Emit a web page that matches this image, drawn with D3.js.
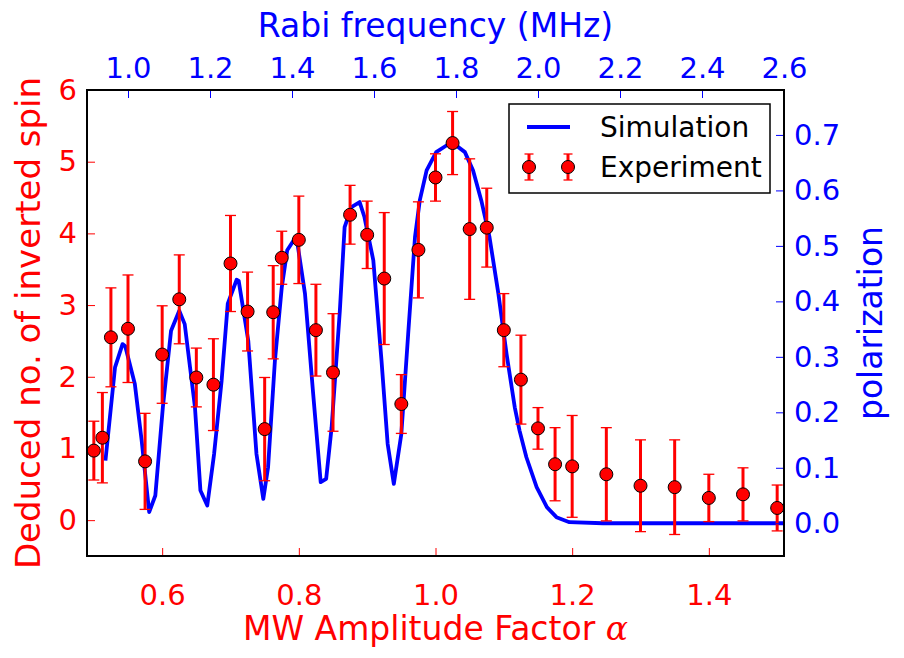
<!DOCTYPE html>
<html lang="en">
<head>
<meta charset="utf-8">
<title>Inverted spin vs MW amplitude</title>
<script src="https://d3js.org/d3.v7.min.js"></script>
<style>
  body { margin: 0; background: #fff; }
  text { font-family: "DejaVu Sans", sans-serif; }
</style>
</head>
<body>
<div id="chart"></div>
<script>

// experiment: MW amplitude factor, deduced no. of inverted spin, error
var alpha = [0.50, 0.5125, 0.525, 0.55, 0.575, 0.60, 0.625, 0.65, 0.675, 0.70, 0.725, 0.75, 0.7625,
  0.775, 0.80, 0.825, 0.85, 0.875, 0.90, 0.925, 0.95, 0.975, 1.00, 1.025, 1.05, 1.075, 1.10, 1.125,
  1.15, 1.175, 1.20, 1.25, 1.30, 1.35, 1.40, 1.45, 1.50]
var spins = [0.97, 1.15, 2.55, 2.67, 0.82, 2.31, 3.08, 1.99, 1.89, 3.58, 2.91, 1.27, 2.90,
  3.66, 3.91, 2.65, 2.06, 4.26, 3.98, 3.37, 1.62, 3.77, 4.78, 5.26, 4.06, 4.08, 2.65, 1.96,
  1.28, 0.78, 0.75, 0.64, 0.48, 0.46, 0.31, 0.36, 0.17]
var errs = [0.41, 0.63, 0.69, 0.75, 0.67, 0.68, 0.62, 0.41, 0.64, 0.67, 0.55, 0.72, 0.65,
  0.37, 0.61, 0.64, 0.82, 0.41, 0.47, 0.92, 0.41, 0.67, 0.33, 0.44, 0.98, 0.55, 0.51, 0.62,
  0.29, 0.51, 0.71, 0.65, 0.64, 0.66, 0.33, 0.37, 0.32]

// simulation: polarization (right axis)
var simAlpha = [0.517, 0.531, 0.542, 0.546, 0.560, 0.570, 0.581, 0.590, 0.601, 0.613, 0.625, 0.633,
  0.648, 0.656, 0.666, 0.676, 0.687, 0.696, 0.709, 0.712, 0.726, 0.738, 0.748, 0.755, 0.765, 0.775,
  0.783, 0.793, 0.798, 0.809, 0.821, 0.832, 0.840, 0.848, 0.860, 0.867, 0.877, 0.889, 0.896, 0.909,
  0.921, 0.930, 0.939, 0.950, 0.960, 0.970, 0.977, 0.987, 1.001, 1.016, 1.026, 1.043, 1.055, 1.067,
  1.079, 1.092, 1.104, 1.116, 1.123, 1.133, 1.148, 1.163, 1.177, 1.196, 1.245, 1.51]
var simPol = [0.113, 0.281, 0.323, 0.319, 0.251, 0.149, 0.020, 0.050, 0.209, 0.347, 0.383, 0.359,
  0.209, 0.059, 0.032, 0.125, 0.257, 0.396, 0.439, 0.437, 0.329, 0.125, 0.044, 0.101, 0.293, 0.425,
  0.492, 0.511, 0.504, 0.414, 0.233, 0.074, 0.080, 0.173, 0.383, 0.534, 0.570, 0.579, 0.552, 0.474,
  0.293, 0.143, 0.071, 0.161, 0.341, 0.516, 0.582, 0.636, 0.669, 0.681, 0.685, 0.669, 0.636, 0.582,
  0.516, 0.414, 0.305, 0.209, 0.167, 0.119, 0.065, 0.029, 0.011, 0.002, 0.000, 0.000]

var xTicks = [0.6, 0.8, 1.0, 1.2, 1.4]
var rabiTicks = [1.0, 1.2, 1.4, 1.6, 1.8, 2.0, 2.2, 2.4, 2.6]
var spinTicks = [0, 1, 2, 3, 4, 5, 6]
var polTicks = [0.0, 0.1, 0.2, 0.3, 0.4, 0.5, 0.6, 0.7]

var w = 904, h = 658
var pLeft = 87, pRight = 784, pTop = 90, pBottom = 556
var red = "#ff0000", blue = "#0000ff"

var svg = d3.select("#chart").append("svg")
  .attr("width", w)
  .attr("height", h)

var xScale = d3.scaleLinear().domain([0.49, 1.51]).range([pLeft, pRight])
var rabiScale = d3.scaleLinear().domain([0.9, 2.6]).range([pLeft, pRight])
var yScale = d3.scaleLinear().domain([-0.5, 6]).range([pBottom, pTop])
var polScale = d3.scaleLinear().domain([-0.059, 0.781]).range([pBottom, pTop])

// simulation line
var line = d3.line()
  .x(function(d) { return xScale(d[0]) })
  .y(function(d) { return polScale(d[1]) })

svg.append("path")
  .datum(simAlpha.map(function(a, i) { return [a, simPol[i]] }))
  .attr("d", line)
  .attr("fill", "none")
  .attr("stroke", blue)
  .attr("stroke-width", 3.8)
  .attr("stroke-linejoin", "round")

// error bars
var pts = alpha.map(function(a, i) { return { a: a, s: spins[i], e: errs[i] } })
var eb = svg.append("g")
eb.selectAll("line.bar").data(pts).enter().append("line")
  .attr("x1", function(d) { return xScale(d.a) })
  .attr("x2", function(d) { return xScale(d.a) })
  .attr("y1", function(d) { return yScale(d.s + d.e) })
  .attr("y2", function(d) { return yScale(d.s - d.e) })
  .attr("stroke", red)
  .attr("stroke-width", 3)
;[1, -1].forEach(function(sign) {
  eb.selectAll("line.cap" + sign).data(pts).enter().append("line")
    .attr("x1", function(d) { return xScale(d.a) - 5.5 })
    .attr("x2", function(d) { return xScale(d.a) + 5.5 })
    .attr("y1", function(d) { return yScale(d.s + sign * d.e) })
    .attr("y2", function(d) { return yScale(d.s + sign * d.e) })
    .attr("stroke", red)
    .attr("stroke-width", 1.3)
})

svg.append("g").selectAll("circle").data(pts).enter().append("circle")
  .attr("cx", function(d) { return xScale(d.a) })
  .attr("cy", function(d) { return yScale(d.s) })
  .attr("r", 6.5)
  .attr("fill", red)
  .attr("stroke", "#000")
  .attr("stroke-width", 1)

// axes, ticks point inward
function styleAxis(g, color) {
  g.select(".domain").remove()
  g.selectAll(".tick line").attr("stroke", color).attr("stroke-width", 1)
  g.selectAll(".tick text").attr("fill", color).style("font-size", "29px")
    .style("font-family", "DejaVu Sans")
}

var fmt1 = d3.format(".1f")

svg.append("g")
  .attr("transform", "translate(0," + pBottom + ")")
  .call(d3.axisBottom(xScale).tickValues(xTicks).tickFormat(fmt1).tickSizeInner(-8).tickSizeOuter(0).tickPadding(28))
  .call(styleAxis, red)

svg.append("g")
  .attr("transform", "translate(0," + pTop + ")")
  .call(d3.axisTop(rabiScale).tickValues(rabiTicks).tickFormat(fmt1).tickSizeInner(-8).tickSizeOuter(0).tickPadding(12))
  .call(styleAxis, blue)

svg.append("g")
  .attr("transform", "translate(" + pLeft + ",0)")
  .call(d3.axisLeft(yScale).tickValues(spinTicks).tickFormat(d3.format("d")).tickSizeInner(-8).tickSizeOuter(0).tickPadding(10))
  .call(styleAxis, red)

svg.append("g")
  .attr("transform", "translate(" + pRight + ",0)")
  .call(d3.axisRight(polScale).tickValues(polTicks).tickFormat(fmt1).tickSizeInner(-8).tickSizeOuter(0).tickPadding(10))
  .call(styleAxis, blue)

// frame
svg.append("rect")
  .attr("x", pLeft).attr("y", pTop)
  .attr("width", pRight - pLeft).attr("height", pBottom - pTop)
  .attr("fill", "none")
  .attr("stroke", "#000")
  .attr("stroke-width", 2)

// axis titles
var xl = svg.append("text")
  .attr("x", (pLeft + pRight) / 2).attr("y", 640)
  .attr("text-anchor", "middle")
  .attr("fill", red)
  .style("font-size", "33px")
xl.append("tspan").text("MW Amplitude Factor ")
xl.append("tspan").text("\u03b1")
  .style("font-family", "DejaVu Serif").style("font-style", "italic")

svg.append("text")
  .attr("x", (pLeft + pRight) / 2).attr("y", 37)
  .attr("text-anchor", "middle")
  .attr("fill", blue)
  .style("font-size", "33px")
  .text("Rabi frequency (MHz)")

svg.append("text")
  .attr("transform", "translate(40," + (pTop + pBottom) / 2 + ") rotate(-90)")
  .attr("text-anchor", "middle")
  .attr("fill", red)
  .style("font-size", "34px")
  .text("Deduced no. of inverted spin")

svg.append("text")
  .attr("transform", "translate(882," + (pTop + pBottom) / 2 + ") rotate(-90)")
  .attr("text-anchor", "middle")
  .attr("fill", blue)
  .style("font-size", "33px")
  .text("polarization")

// legend
var lg = svg.append("g")
lg.append("rect")
  .attr("x", 509).attr("y", 104).attr("width", 261).attr("height", 89)
  .attr("fill", "#fff").attr("stroke", "#000").attr("stroke-width", 1.5)
lg.append("line")
  .attr("x1", 527).attr("x2", 570).attr("y1", 127).attr("y2", 127)
  .attr("stroke", blue).attr("stroke-width", 3.8)
lg.append("text").attr("x", 600).attr("y", 137).style("font-size", "28px").text("Simulation")
;[529, 568].forEach(function(cx) {
  lg.append("line").attr("x1", cx).attr("x2", cx).attr("y1", 154).attr("y2", 180)
    .attr("stroke", red).attr("stroke-width", 3)
  ;[154, 180].forEach(function(cy) {
    lg.append("line").attr("x1", cx - 4.5).attr("x2", cx + 4.5).attr("y1", cy).attr("y2", cy)
      .attr("stroke", red).attr("stroke-width", 1.3)
  })
  lg.append("circle").attr("cx", cx).attr("cy", 167).attr("r", 6.5)
    .attr("fill", red).attr("stroke", "#000").attr("stroke-width", 1)
})
lg.append("text").attr("x", 600).attr("y", 177).style("font-size", "28px").text("Experiment")

</script>
</body>
</html>
